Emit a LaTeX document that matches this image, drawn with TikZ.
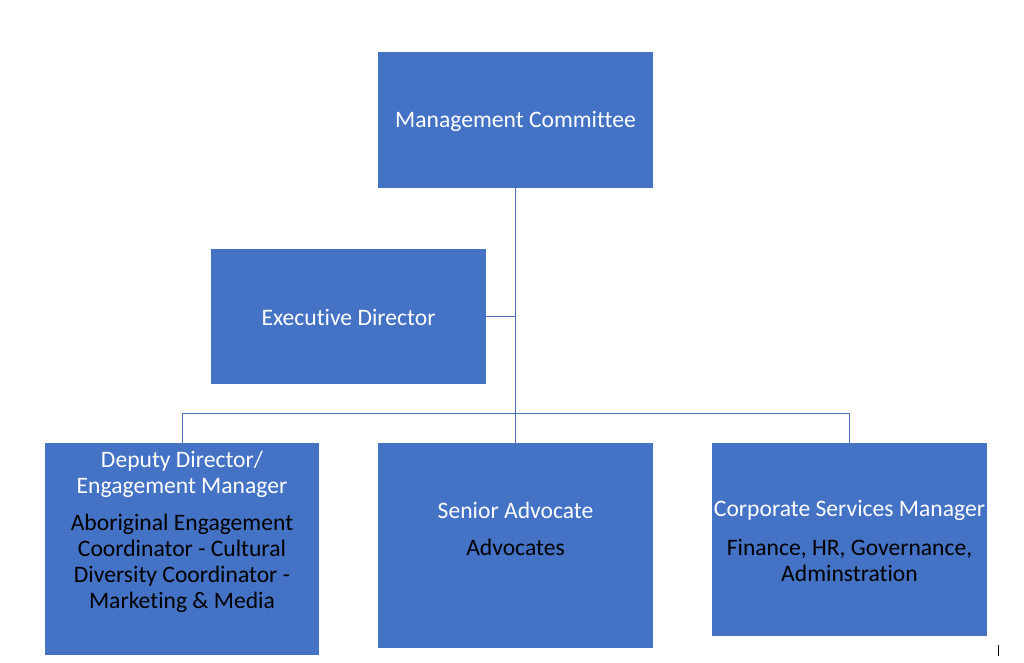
\documentclass[tikz,border=0pt]{standalone}
\usepackage{fontspec}
\setmainfont[Ligatures={NoCommon}]{Carlito}
\definecolor{boxblue}{HTML}{4472C4}
\definecolor{linkblue}{HTML}{4A6FB5}
\begin{document}
\begin{tikzpicture}[x=1pt,y=-1pt,
  box/.style={draw=none,fill=boxblue,anchor=north west,inner sep=0pt},
  wtext/.style={text=white,align=center,font=\fontsize{23.6}{25.5}\selectfont,inner sep=0pt},
  btext/.style={text=black,align=center,font=\fontsize{23.6}{26}\selectfont,inner sep=0pt},
  link/.style={draw=linkblue,line width=1pt}]
\useasboundingbox (0,0) rectangle (1024,662);
\fill[white] (0,0) rectangle (1024,662);
% boxes
\node[box,minimum width=275pt,minimum height=136pt] (mc) at (378,52) {};
\node[box,minimum width=275pt,minimum height=135pt] (ed) at (211,249) {};
\node[box,minimum width=274pt,minimum height=212pt] (dd) at (45,443) {};
\node[box,minimum width=275pt,minimum height=205pt] (sa) at (378,443) {};
\node[box,minimum width=275pt,minimum height=193pt] (cs) at (712,443) {};
% texts
\node[wtext] (mct) at (515.5,121) {Management Committee};
\node[wtext] (edt) at (348.5,317) {Executive Director};
\node[wtext] (ddt) at (182,474.5) {Deputy Director/\\Engagement Manager};
\node[btext] (ddb) at (182,563) {Aboriginal Engagement\\Coordinator - Cultural\\Diversity Coordinator -\\Marketing \& Media};
\node[wtext] (sat) at (515.5,510) {Senior Advocate};
\node[btext] (sab) at (515.5,547) {Advocates};
\node[wtext] (cst) at (849.5,510) {Corporate Services Manager};
\node[btext] (csb) at (849.5,560.5) {Finance, HR, Governance,\\Adminstration};
% connectors
\coordinate (bus) at (515.5,413);
\draw[link] (mc.south) -- (sa.north);
\draw[link] (ed.east) -- (ed.east -| mc.south);
\draw[link] (dd.north) -- (dd.north |- bus) -- (cs.north |- bus) -- (cs.north);
% cursor mark
\coordinate (cur1) at (998,645);
\coordinate (cur2) at (998,656);
\draw[black,line width=1pt] (cur1) -- (cur2);
\end{tikzpicture}
\end{document}
